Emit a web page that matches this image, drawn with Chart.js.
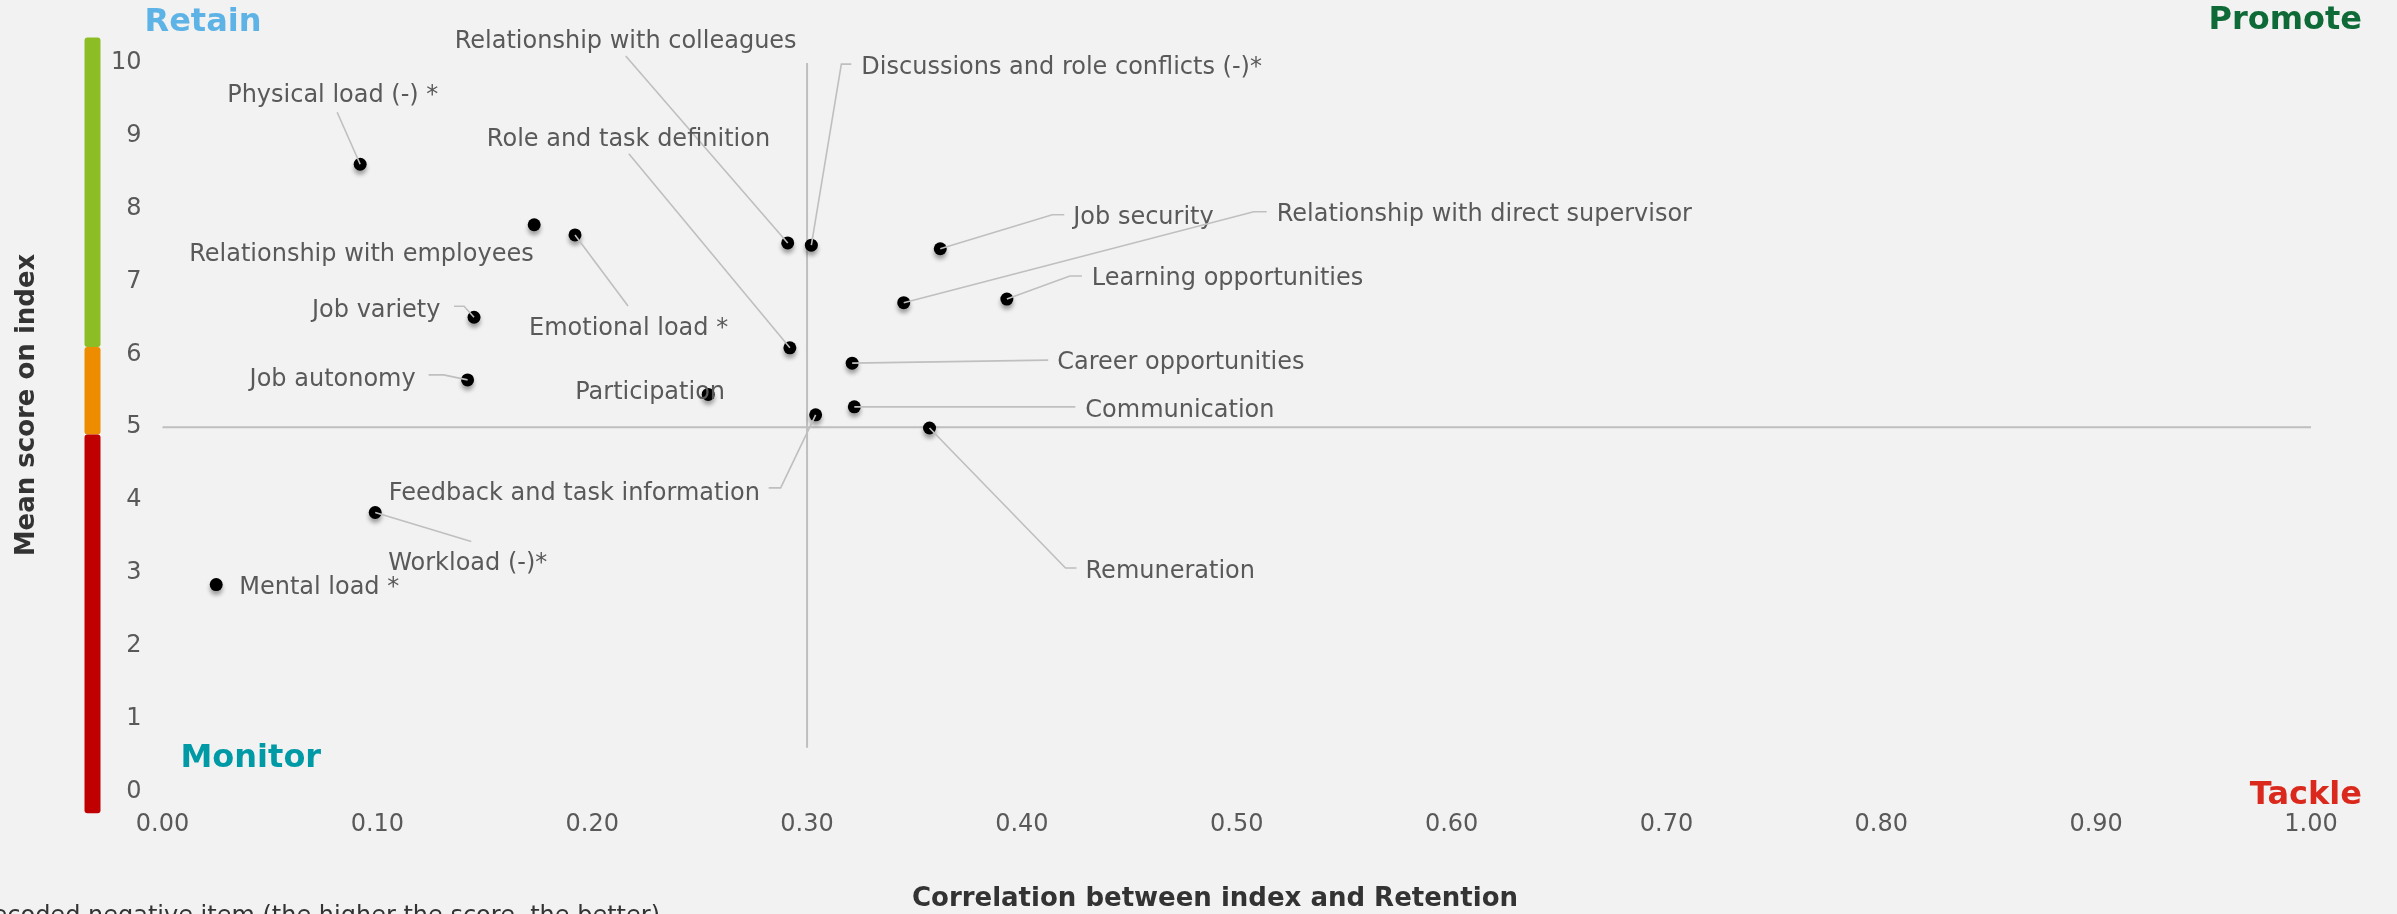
<!DOCTYPE html>
<html>
<head>
<meta charset="utf-8">
<script src="https://cdn.jsdelivr.net/npm/chart.js@4.4.1/dist/chart.umd.min.js"></script>
<style>
  html, body { margin: 0; padding: 0; background: #f2f2f2; overflow: hidden; }
  #matrix { display: block; }
</style>
</head>
<body>
<canvas id="matrix" width="2397" height="914"></canvas>
<script>
// items of the index, correlation with retention, mean score
const items = [
    'Physical load (-) *', 'Relationship with employees', 'Emotional load *', 'Job variety',
    'Job autonomy', 'Participation', 'Relationship with colleagues', 'Role and task definition',
    'Discussions and role conflicts (-)*', 'Job security', 'Relationship with direct supervisor',
    'Learning opportunities', 'Career opportunities', 'Communication',
    'Feedback and task information', 'Remuneration', 'Workload (-)*', 'Mental load *'
];
const correlation = [0.092, 0.173, 0.192, 0.145, 0.142, 0.254, 0.291, 0.292, 0.302, 0.362, 0.345, 0.393, 0.321, 0.322, 0.304, 0.357, 0.099, 0.025];
const meanScore   = [8.61, 7.78, 7.64, 6.51, 5.65, 5.45, 7.53, 6.09, 7.50, 7.45, 6.71, 6.76, 5.88, 5.28, 5.17, 4.99, 3.83, 2.84];

const xTicks = [0, 0.1, 0.2, 0.3, 0.4, 0.5, 0.6, 0.7, 0.8, 0.9, 1.0];
const yTicks = [0, 1, 2, 3, 4, 5, 6, 7, 8, 9, 10];

// quadrant split and the coloured score band on the left
const splitX = 0.30;
const splitY = 5;
const bandEdges = [10.35, 6.1, 4.9, -0.3];
const bandColors = ['#8cbd24', '#ee8c00', '#c00000'];

const quadrants = ['Retain', 'Promote', 'Monitor', 'Tackle'];
const footnote = '(-) Recoded negative item (the higher the score, the better)';

// label placement, pixels relative to the point: text start, and leader path
const labelLayout = [
    { dx: -133, dy: -70, path: [[-23, -52]] },
    { dx: -345, dy: 28, path: [] },
    { dx: -46, dy: 92, path: [[53, 71]] },
    { dx: -162, dy: -8, path: [[-10, -11], [-20, -11]] },
    { dx: -218, dy: -2, path: [[-24, -5], [-39, -5]] },
    { dx: -133, dy: -4, path: [] },
    { dx: -333, dy: -203, path: [[-162, -187]] },
    { dx: -303, dy: -210, path: [[-161, -194]] },
    { dx: 50, dy: -179, path: [[30, -181], [40, -181]] },
    { dx: 133, dy: -33, path: [[112, -34], [124, -34]] },
    { dx: 373, dy: -90, path: [[350, -91], [363, -91]] },
    { dx: 85, dy: -22, path: [[63, -23], [75, -23]] },
    { dx: 205, dy: -2, path: [[196, -3]] },
    { dx: 231, dy: 2, path: [[221, 0]] },
    { dx: -427, dy: 77, path: [[-35, 73], [-47, 73]] },
    { dx: 156, dy: 142, path: [[136, 140], [147, 140]] },
    { dx: 13, dy: 49, path: [[96, 29]] },
    { dx: 23, dy: 1, path: [] }
];

const FONT = "'DejaVu Sans', Verdana, sans-serif";
const TEXT = '#595959';

const quadrantPlugin = {
    id: 'quadrant',
    beforeDraw(chart) {
        const c = chart.ctx;
        c.save();
        c.fillStyle = '#f2f2f2';
        c.fillRect(0, 0, chart.width, chart.height);
        c.restore();
    },
    beforeDatasetsDraw(chart) {
        const c = chart.ctx;
        const xs = chart.scales.x, ys = chart.scales.y;
        const area = chart.chartArea;

        c.save();
        c.strokeStyle = '#bfbfbf';
        c.lineWidth = 2;
        c.beginPath();
        c.moveTo(xs.getPixelForValue(0), ys.getPixelForValue(splitY));
        c.lineTo(xs.getPixelForValue(1), ys.getPixelForValue(splitY));
        c.moveTo(xs.getPixelForValue(splitX), ys.getPixelForValue(10));
        c.lineTo(xs.getPixelForValue(splitX), ys.getPixelForValue(0.6));
        c.stroke();

        // score band
        for (let i = 0; i < bandColors.length; i++) {
            const top = ys.getPixelForValue(bandEdges[i]);
            const bot = ys.getPixelForValue(bandEdges[i + 1]);
            c.fillStyle = bandColors[i];
            c.beginPath();
            c.roundRect(area.left - 78, top, 16, bot - top, 3);
            c.fill();
        }
        c.restore();

        c.save();
        c.shadowColor = 'rgba(0,0,0,0.35)';
        c.shadowBlur = 4;
        c.shadowOffsetY = 4;
    },
    afterDatasetsDraw(chart) {
        const c = chart.ctx;
        c.restore();

        const meta = chart.getDatasetMeta(0);
        c.save();
        c.strokeStyle = '#bfbfbf';
        c.lineWidth = 1.6;
        c.font = '24px ' + FONT;
        c.fillStyle = TEXT;
        c.textBaseline = 'middle';
        c.textAlign = 'left';
        meta.data.forEach((pt, i) => {
            const lay = labelLayout[i];
            if (lay.path.length) {
                c.beginPath();
                c.moveTo(pt.x, pt.y);
                lay.path.forEach(p => c.lineTo(pt.x + p[0], pt.y + p[1]));
                c.stroke();
            }
            c.fillText(items[i], pt.x + lay.dx, pt.y + lay.dy + 2);
        });
        c.restore();

        const area = chart.chartArea;
        c.save();
        c.font = 'bold 32px ' + FONT;
        c.textBaseline = 'middle';
        c.textAlign = 'left';
        c.fillStyle = '#5db3e6';
        c.fillText(quadrants[0], area.left - 18, area.top - 40);
        c.fillStyle = '#009aa6';
        c.fillText(quadrants[2], area.left + 18, area.bottom - 33);
        c.textAlign = 'right';
        c.fillStyle = '#0e6b37';
        c.fillText(quadrants[1], area.right + 51, area.top - 42);
        c.fillStyle = '#da291c';
        c.fillText(quadrants[3], area.right + 51, area.bottom + 4);

        // axis titles
        c.fillStyle = '#333333';
        c.font = 'bold 26px ' + FONT;
        c.textAlign = 'center';
        c.fillText('Correlation between index and Retention', 1215, 899);
        c.save();
        c.translate(27, 405);
        c.rotate(-Math.PI / 2);
        c.fillText('Mean score on index', 0, 0);
        c.restore();

        c.font = '24px ' + FONT;
        c.fillStyle = '#333333';
        c.textAlign = 'right';
        c.fillText(footnote, 660, 917);
        c.restore();
    }
};

new Chart(document.getElementById('matrix'), {
    type: 'scatter',
    data: {
        datasets: [{
            label: 'Index items',
            data: items.map((name, i) => ({ x: correlation[i], y: meanScore[i] })),
            backgroundColor: '#000000',
            borderColor: '#000000',
            borderWidth: 0,
            pointRadius: 6.5,
            pointHoverRadius: 6.5
        }]
    },
    options: {
        responsive: false,
        animation: false,
        devicePixelRatio: 1,
        layout: { padding: { top: 63, right: 86, left: 0, bottom: 0 } },
        plugins: {
            legend: { display: false },
            tooltip: { enabled: false }
        },
        scales: {
            x: {
                type: 'linear',
                min: 0,
                max: 1,
                afterBuildTicks: s => { s.ticks = xTicks.map(v => ({ value: v })); },
                ticks: {
                    callback: v => v.toFixed(2),
                    color: TEXT,
                    font: { family: FONT, size: 24 },
                    padding: 19,
                    maxRotation: 0,
                    autoSkip: false
                },
                grid: { display: false, drawTicks: false },
                border: { display: false },
                afterFit: s => { s.height = 122.5; }
            },
            y: {
                type: 'linear',
                min: 0,
                max: 10,
                afterBuildTicks: s => { s.ticks = yTicks.map(v => ({ value: v })); },
                ticks: {
                    color: TEXT,
                    font: { family: FONT, size: 24 },
                    padding: 21,
                    autoSkip: false
                },
                grid: { display: false, drawTicks: false },
                border: { display: false },
                afterFit: s => { s.width = 162.5; }
            }
        }
    },
    plugins: [quadrantPlugin]
});
</script>
</body>
</html>
